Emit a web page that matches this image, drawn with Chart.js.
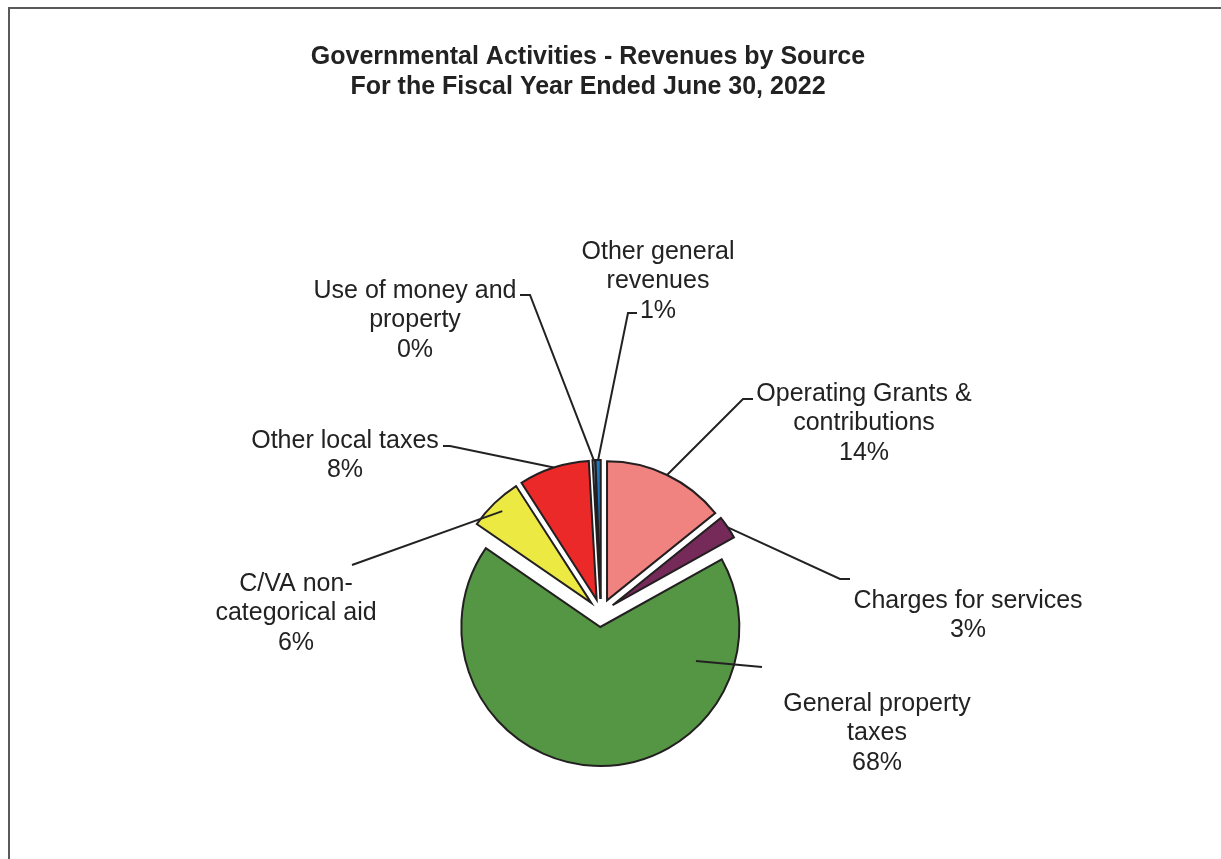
<!DOCTYPE html>
<html>
<head>
<meta charset="utf-8">
<title>Governmental Activities - Revenues by Source</title>
<script src="https://cdn.jsdelivr.net/npm/chart.js@4.4.1/dist/chart.umd.min.js"></script>
<style>
  html, body { margin: 0; padding: 0; background: #fff; }
  #wrap { width: 1221px; height: 859px; position: relative; }
</style>
</head>
<body>
<div id="wrap">
  <canvas id="pie" width="1221" height="859"></canvas>
</div>
<script>
// data //////////////////////////////////////////////////
const categories = [
  "Operating Grants & contributions",
  "Charges for services",
  "General property taxes",
  "C/VA non-categorical aid",
  "Other local taxes",
  "Use of money and property",
  "Other general revenues"
];
// share of total revenue, percent
const shares = [14.2, 2.7, 67.7, 6.3, 8.2, 0.3, 0.6];
const colors = ["#F08280", "#752A5A", "#559644", "#EDE943", "#EC2929", "#9BBBD9", "#1E78BE"];

// label text lines (the % line is added from shares)
const labelLines = [
  ["Operating Grants &", "contributions"],
  ["Charges for services"],
  ["General property", "taxes"],
  ["C/VA non-", "categorical aid"],
  ["Other local taxes"],
  ["Use of money and", "property"],
  ["Other general", "revenues"]
];

// layout ////////////////////////////////////////////////
const explode = [14, 14, 14, 14, 14, 14, 14];   // px each slice pulled out
const labelPos = [                                 // center x, first line y
  [864, 394], [968, 601], [877, 704], [296, 584], [345, 441], [415, 291], [658, 252]
];
// leader: points next to the label, then a spot on the slice [angle frac, radius frac]
const leaders = [
  { pts: [[753, 399], [743, 399]], at: [0.5, 1.0] },
  { pts: [[850, 579], [840, 579]], at: [0.5, 1.0] },
  { pts: [[762, 667]],             at: [0.2, 0.73] },
  { pts: [[352, 565]],             at: [0.5, 0.92] },
  { pts: [[443, 446], [450, 446]], at: [0.5, 1.0] },
  { pts: [[520, 295], [530, 295]], at: [0.5, 1.0] },
  { pts: [[637, 313], [628, 313]], at: [0.5, 1.0] }
];
const lineH = 29.5;
const textColor = "#222";

// 슬라이스 분리 + 레이블 플러그인
const explodedPie = {
  id: "explodedPie",
  beforeDatasetDraw(chart, args) {
    const ctx = chart.ctx;
    args.meta.data.forEach((arc, i) => {
      const mid = (arc.startAngle + arc.endAngle) / 2;
      ctx.save();
      ctx.translate(Math.cos(mid) * explode[i], Math.sin(mid) * explode[i]);
      arc.draw(ctx, chart.chartArea);
      ctx.restore();
    });
    return false;
  },
  afterDraw(chart) {
    const ctx = chart.ctx;
    ctx.save();

    // frame (left + top)
    ctx.strokeStyle = "#5a5a5a";
    ctx.lineWidth = 2;
    ctx.beginPath();
    ctx.moveTo(9, 859);
    ctx.lineTo(9, 8);
    ctx.lineTo(1221, 8);
    ctx.stroke();

    // title
    ctx.fillStyle = textColor;
    ctx.textAlign = "center";
    ctx.textBaseline = "middle";
    ctx.font = "bold 25px 'Liberation Sans', Arial, sans-serif";
    ctx.fillText("Governmental Activities - Revenues by Source", 588, 57);
    ctx.fillText("For the Fiscal Year Ended June 30, 2022", 588, 87);

    // leader lines
    const meta = chart.getDatasetMeta(0);
    ctx.strokeStyle = textColor;
    ctx.lineWidth = 2;
    ctx.lineJoin = "miter";
    meta.data.forEach((arc, i) => {
      const mid = (arc.startAngle + arc.endAngle) / 2;
      const cx = arc.x + Math.cos(mid) * explode[i];
      const cy = arc.y + Math.sin(mid) * explode[i];
      const a = arc.startAngle + (arc.endAngle - arc.startAngle) * leaders[i].at[0];
      const r = arc.outerRadius * leaders[i].at[1];
      const ld = leaders[i].pts;
      ctx.beginPath();
      ctx.moveTo(ld[0][0], ld[0][1]);
      for (let k = 1; k < ld.length; k++) ctx.lineTo(ld[k][0], ld[k][1]);
      ctx.lineTo(cx + Math.cos(a) * r, cy + Math.sin(a) * r);
      ctx.stroke();
    });

    // labels
    ctx.font = "25px 'Liberation Sans', Arial, sans-serif";
    ctx.fillStyle = textColor;
    categories.forEach((c, i) => {
      const lines = labelLines[i].concat([Math.round(shares[i]) + "%"]);
      lines.forEach((t, k) => {
        ctx.fillText(t, labelPos[i][0], labelPos[i][1] + k * lineH);
      });
    });
    ctx.restore();
  }
};

const pieChart = new Chart(document.getElementById("pie"), {
  type: "pie",
  data: {
    labels: categories,
    datasets: [{
      data: shares,
      backgroundColor: colors,
      borderColor: "#231F20",
      borderWidth: 2,
      borderJoinStyle: "miter",
      hoverOffset: 0
    }]
  },
  options: {
    responsive: false,
    animation: false,
    radius: 139,
    layout: { padding: { left: 0, right: 19, top: 367, bottom: 0 } },
    plugins: {
      legend: { display: false },
      tooltip: { enabled: false },
      title: { display: false }
    }
  },
  plugins: [explodedPie]
});
</script>
</body>
</html>
